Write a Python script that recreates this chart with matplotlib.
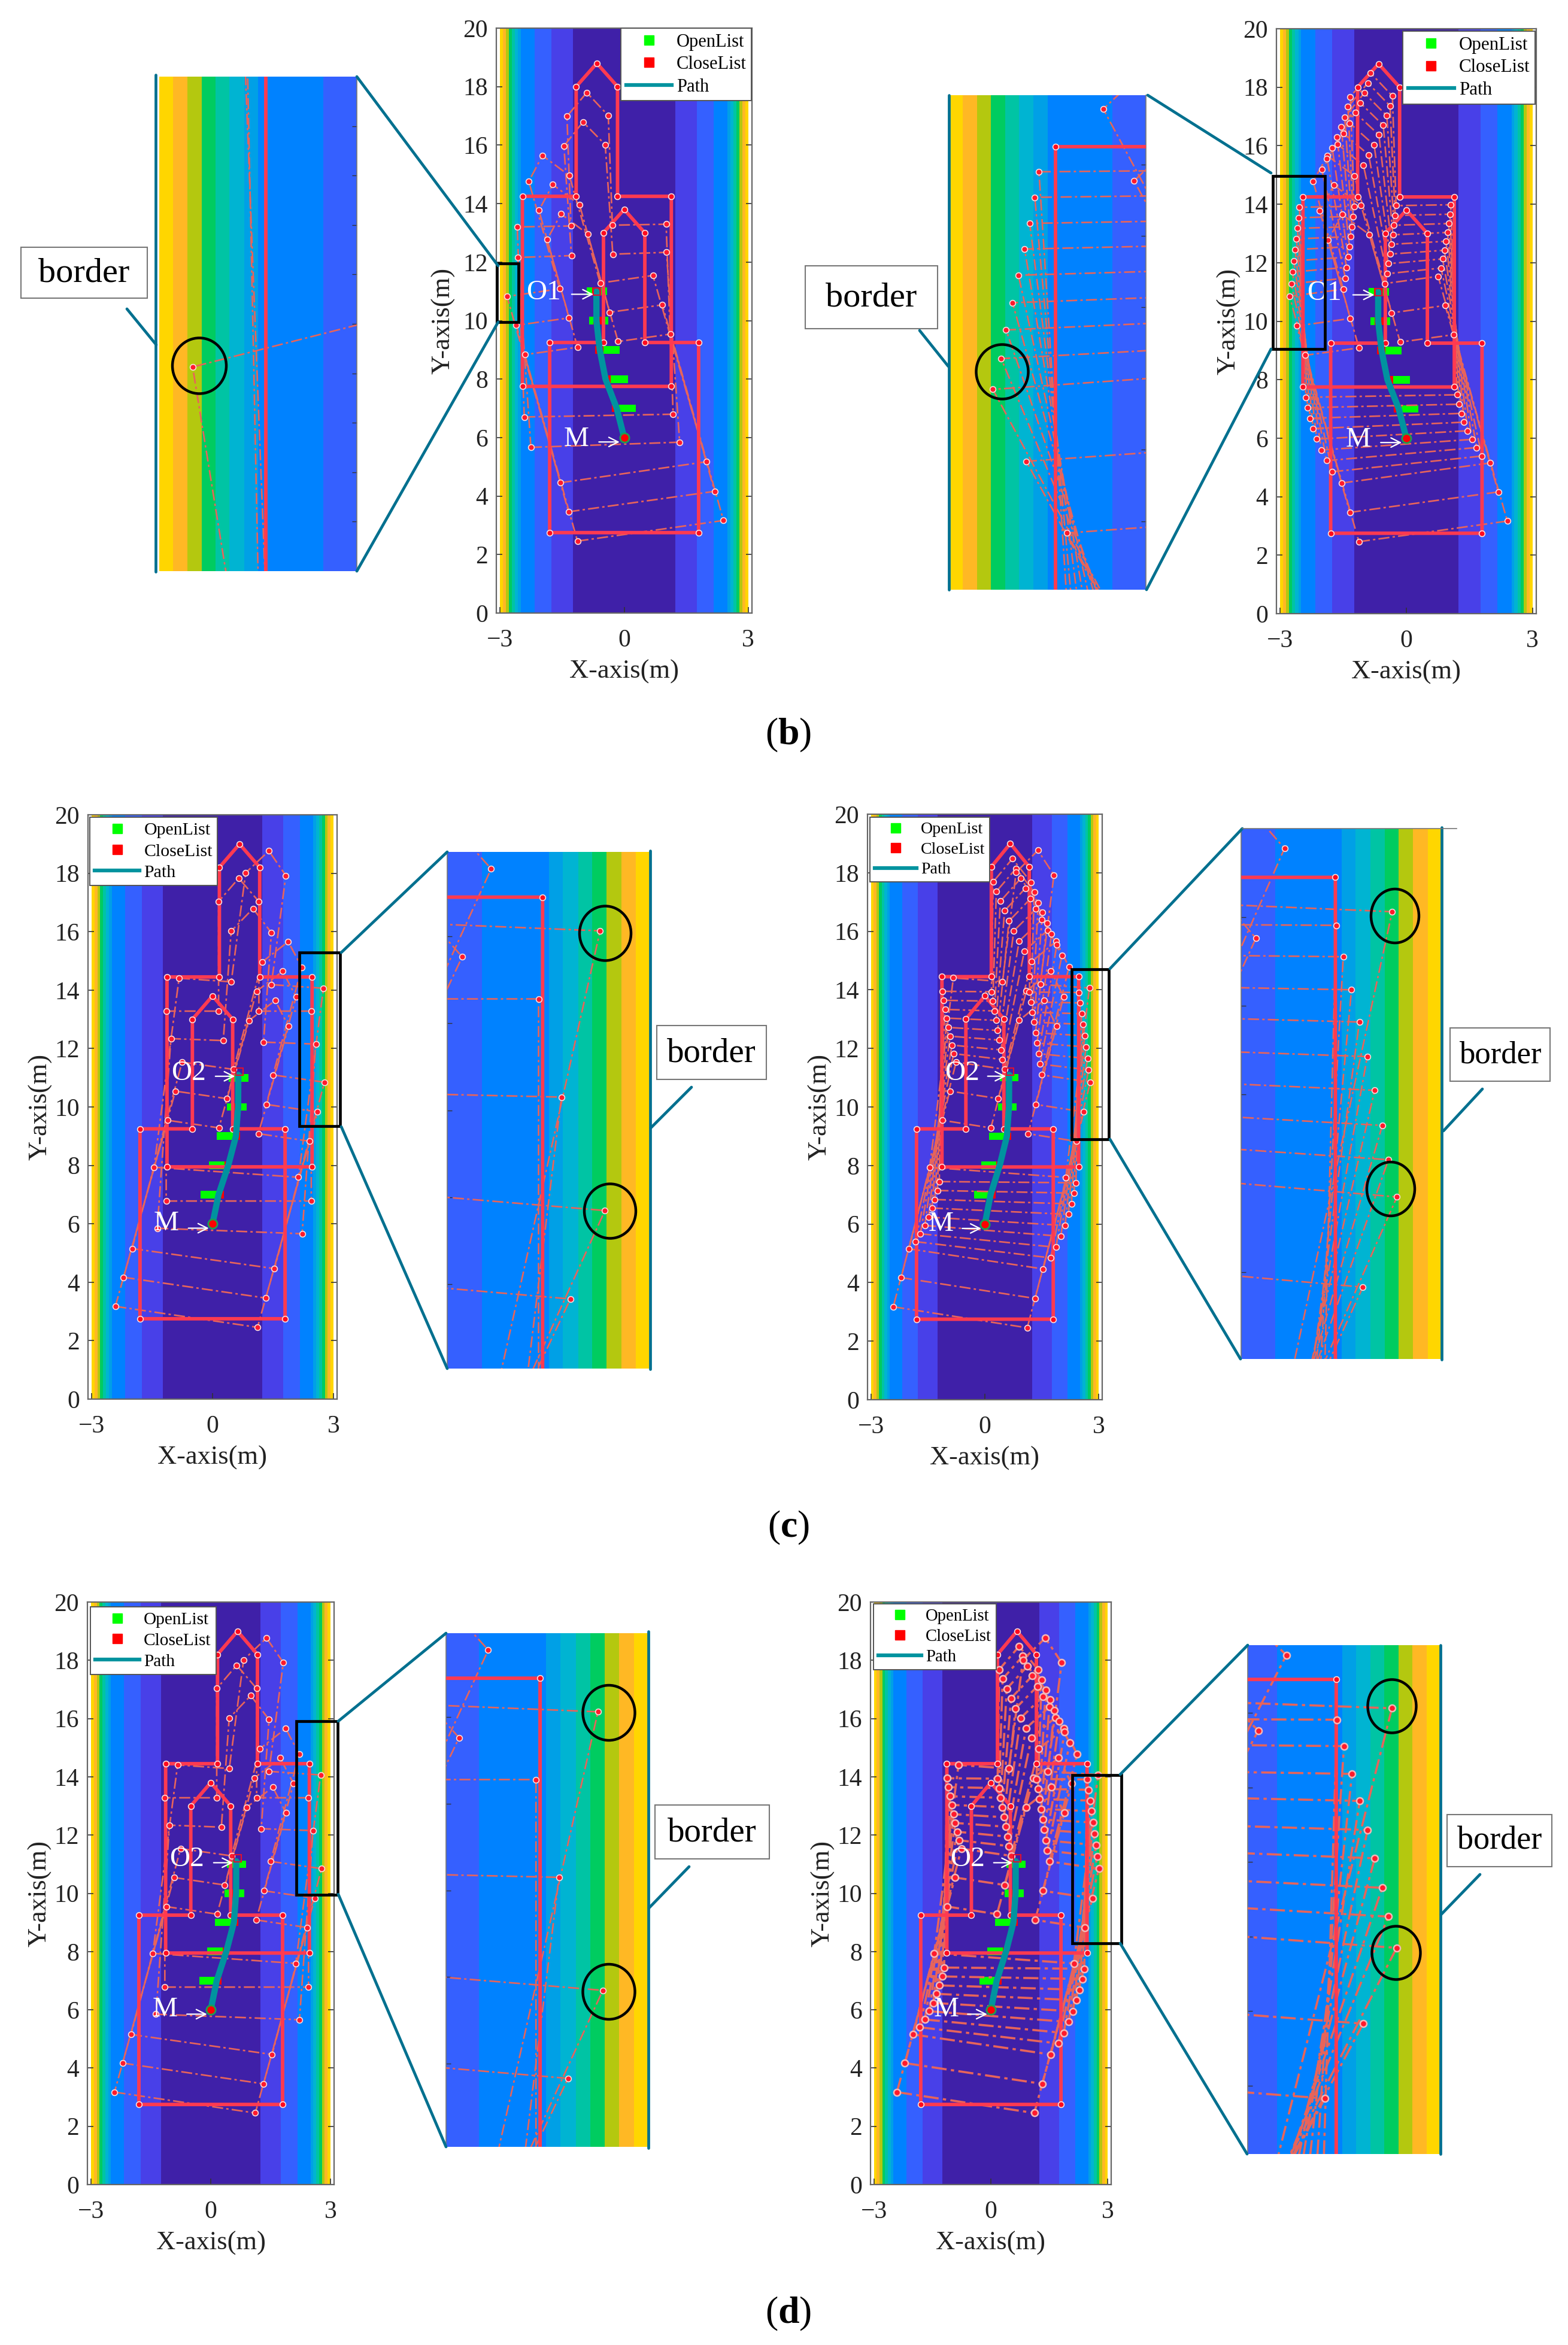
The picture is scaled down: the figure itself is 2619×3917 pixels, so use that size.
import numpy as np
import matplotlib
matplotlib.use('Agg')
import matplotlib.pyplot as plt
from matplotlib.lines import Line2D
from matplotlib.patches import Rectangle, Ellipse

plt.rcParams['font.family'] = ['Liberation Serif', 'DejaVu Sans']
plt.rcParams['mathtext.fontset'] = 'custom'
plt.rcParams['mathtext.rm'] = 'Liberation Serif'
plt.rcParams['mathtext.bf'] = 'Liberation Serif:bold'

W, H = 2619, 3917

# Potential field bands, from the road centre outwards (|x| upper edge)
band_edges = [1.24, 1.76, 2.17, 2.5, 2.57, 2.645, 2.715, 2.786, 2.857, 2.93, 3.0]
band_colors = ['#3F20A8', '#4840E8', '#3560FF', '#0082FF', '#00A0E6', '#00B4D2',
               '#00C4A4', '#00CC60', '#B4C80F', '#FFB824', '#FFD600']

# Vehicle outline relative to its reference point
shape_x = [-1.8, 1.8, 1.8, 0.5, 0.5, 0.0, -0.5, -0.5, -1.8]
shape_y = [-3.25, -3.25, 3.25, 3.25, 7.0, 7.8, 7.0, 3.25, 3.25]

# Poses (x, y, yaw in degrees)
start_pose = (0.0, 6.0, 0.0)
goal_left = (-0.66, 11.0, 0.0)
goal_right = (0.67, 11.2, 0.0)

poses_b_sparse = [(0, 6, 11.3), (-0.21, 7, 11.2), (-0.42, 8, 11.5),
                  (-0.615, 9, 2.8), (-0.7, 10, 1.5)]
poses_b_dense = [(0, 6, 11.3), (-0.21, 7, 11.2), (-0.39, 8, 11), (-0.469, 8.334, 8.6),
                 (-0.519, 8.68, 7.16), (-0.558, 9.01, 5.8), (-0.595, 9.35, 4.55),
                 (-0.621, 9.68, 3.5), (-0.642, 10.01, 2.64), (-0.658, 10.35, 1.89),
                 (-0.667, 10.69, 1.35)]
poses_c_sparse = [(0, 6, -11.5), (0.2, 7, -11.4), (0.39, 8, -11),
                  (0.595, 9, -3), (0.65, 10.03, 0), (0.65, 11, -5.5)]
poses_c_dense = [(0, 6, -11.5), (0.2, 7, -11.4), (0.39, 8, -11), (0.455, 8.333, -8.87),
                 (0.503, 8.66, -7.35), (0.543, 9.0, -5.87), (0.576, 9.333, -4.57),
                 (0.598, 9.683, -3.44), (0.617, 10.01, -2.38), (0.63, 10.35, -1.41),
                 (0.637, 10.68, -0.65), (0.65, 11, -5.5)]

# Search cells and path
cell_y = [7, 8, 9, 10, 11]
open_left_b = [-0.12, -0.32, -0.5, -0.85, -0.9]
open_width_b = [0.4, 0.41, 0.39, 0.47, 0.49]
close_left_b = [-0.3, -0.5, -0.7, -0.75, -0.77]
close_width_b = [0.18, 0.18, 0.2, 0.22, 0.18]
open_left_c = [-0.29, -0.09, 0.106, 0.35, 0.4]
open_width_c = [0.4, 0.39, 0.4, 0.49, 0.49]
close_left_c = [0.106, 0.3, 0.506, 0.5, 0.58]
close_width_c = [0.17, 0.18, 0.18, 0.2, 0.0]

path_x_b = [0, -0.18, -0.45, -0.59, -0.67, -0.67]
path_y_b = [6, 7, 8, 9, 10, 11]
path_x_c = [0, 0.15, 0.39, 0.58, 0.635, 0.64]
path_y_c = [6, 7, 8, 9, 10, 11.1]

x_ticks = [-3, 0, 3]
x_labels = ['\u22123', '0', '3']
y_ticks = list(range(0, 21, 2))

THICK = '#FF3A50'
THIN = '#E8645A'
TEAL = '#00708F'
PATH = '#00939F'


def outline(pose):
    x0, y0, yaw = pose
    t = np.radians(yaw)
    sx = np.array(shape_x)
    sy = np.array(shape_y)
    return x0 + sx * np.cos(t) - sy * np.sin(t), y0 + sx * np.sin(t) + sy * np.cos(t)


def add_axes_px(box):
    # box is left, top, right, bottom in image pixels
    l, t, r, b = box
    return fig.add_axes([l / W, 1 - b / H, (r - l) / W, (b - t) / H])


def draw_scene(ax, poses, goal, cells, path_x, path_y, heavy=False):
    # Bands
    lo = 0
    for hi, c in zip(band_edges, band_colors):
        if lo == 0:
            ax.axvspan(-hi, hi, color=c, lw=0, zorder=1)
        else:
            ax.axvspan(lo, hi, color=c, lw=0, zorder=1)
            ax.axvspan(-hi, -lo, color=c, lw=0, zorder=1)
        lo = hi

    # Open / close cells
    o_l, o_w, c_l, c_w = cells
    ax.barh(cell_y, o_w, left=o_l, height=0.26, color='#00FF00', zorder=3)
    ax.barh(cell_y, c_w, left=c_l, height=0.26, color='#FF0000', zorder=3)

    thin_lw = 2.6 if heavy else 1.9
    ms = 8 if heavy else 7
    mec = '#F2B8B8' if heavy else '#FBDCDC'
    mew = 1.8 if heavy else 1.2
    for pose in poses:
        px_, py_ = outline(pose)
        ax.plot(np.append(px_, px_[0]), np.append(py_, py_[0]), color=THIN, lw=thin_lw,
                ls=(0, (7, 2, 1.5, 2)), zorder=4)
        ax.plot(px_, py_, ls='none', marker='o', ms=ms, mfc='#FF1A2C', mec=mec, mew=mew, zorder=6)
    for pose in [start_pose, goal]:
        px_, py_ = outline(pose)
        ax.plot(np.append(px_, px_[0]), np.append(py_, py_[0]), color=THICK, lw=4.2,
                solid_joinstyle='miter', zorder=5)
        ax.plot(px_, py_, ls='none', marker='o', ms=7, mfc='#FF0A1E', mec='#FBDCDC', mew=1.2, zorder=6)

    # Path, start and goal
    ax.plot(path_x, path_y, color=PATH, lw=7.5, solid_capstyle='round', zorder=7)
    ax.plot([0], [6], ls='none', marker='o', ms=11, mfc='#FF0000', mec='#1CA050', mew=2, zorder=8)
    ax.plot([goal[0]], [goal[1]], ls='none', marker='s', ms=9, mfc='none', mec='#E01030', mew=1.5, zorder=8)


def main_panel(box, poses, goal, cells, path_x, path_y, goal_text, text_xy, arrow, m_xy, m_arrow,
               rect, leg_box, heavy=False, ylabel_pad=3):
    ax = add_axes_px(box)
    draw_scene(ax, poses, goal, cells, path_x, path_y, heavy)
    ax.set_xlim(-3.09, 3.09)
    ax.set_ylim(0, 20)
    ax.set_xticks(x_ticks)
    ax.set_xticklabels(x_labels)
    ax.set_yticks(y_ticks)
    ax.tick_params(direction='in', length=7, width=1.2, color='#333333', labelcolor='#222222',
                   labelsize=30, right=True, top=False, pad=10)
    ax.tick_params(axis='x', pad=19)
    for s in ax.spines.values():
        s.set_color('#666666')
        s.set_linewidth(1.6)
    ax.set_xlabel('X-axis(m)', fontsize=32, color='#222222', labelpad=9)
    ax.set_ylabel('Y-axis(m)', fontsize=32, color='#222222', labelpad=ylabel_pad)

    ax.text(text_xy[0], text_xy[1], goal_text, color='white', fontsize=34, ha='center', va='center', zorder=9)
    ax.text(m_xy[0], m_xy[1], 'M', color='white', fontsize=34, ha='center', va='center', zorder=9)
    for a in (arrow, m_arrow):
        ax.annotate('', xy=(a[1], a[2]), xytext=(a[0], a[2]), zorder=9,
                    arrowprops=dict(arrowstyle='->', color='white', lw=1.6, mutation_scale=28))

    ax.add_patch(Rectangle((rect[0], rect[2]), rect[1] - rect[0], rect[3] - rect[2], fill=False,
                           ec='black', lw=3.4, clip_on=False, zorder=10))

    # Legend
    l, t, r, b = leg_box
    size = 22 * (r - l) / 216
    handles = [Line2D([], [], ls='none', marker='s', ms=11, color='#00FF00'),
               Line2D([], [], ls='none', marker='s', ms=11, color='#FF0000'),
               Line2D([], [], color=PATH, lw=4.5)]
    x0 = (l - box[0]) / (box[2] - box[0])
    y0 = (box[3] - t) / (box[3] - box[1])
    leg = ax.legend(handles, ['OpenList', 'CloseList', 'Path'], loc='upper left', bbox_to_anchor=(x0, y0),
                    borderaxespad=0, fontsize=size, handlelength=2.5, handletextpad=0.25, labelspacing=0.28,
                    borderpad=0.28, fancybox=False, framealpha=1, edgecolor='#555555')
    leg.set_zorder(11)
    leg.get_frame().set_linewidth(1.4)
    return ax


def inset_panel(box, xlim, ylim, ticks, side, poses, goal, cells, path_x, path_y, heavy=False):
    ax = add_axes_px(box)
    draw_scene(ax, poses, goal, cells, path_x, path_y, heavy)
    ax.set_xlim(*xlim)
    ax.set_ylim(*ylim)
    ax.set_xticks([])
    ax.set_yticks(ticks)
    ax.set_yticklabels([])
    ax.tick_params(axis='y', direction='in', length=6, width=1, color='#333333',
                   left=(side == 'left'), right=(side == 'right'))
    for name, s in ax.spines.items():
        s.set_visible(name == side)
        s.set_color('#777777')
        s.set_linewidth(1.2)
    return ax


fig = plt.figure(figsize=(W / 100, H / 100), dpi=100, facecolor='white')

cells_b = (open_left_b, open_width_b, close_left_b, close_width_b)
cells_c = (open_left_c, open_width_c, close_left_c, close_width_c)

# Main panels
main_panel((829, 47, 1256, 1024), poses_b_sparse, goal_left, cells_b, path_x_b, path_y_b, 'O1',
           (-1.95, 10.95), (-1.31, -0.7, 10.9), (-1.15, 5.95), (-0.65, -0.07, 5.85),
           (-3.08, -2.55, 9.94, 11.95), (1037, 47, 1253, 162), ylabel_pad=9)
main_panel((2132, 48, 2566, 1025), poses_b_dense, goal_left, cells_b, path_x_b, path_y_b, 'O1',
           (-1.95, 10.95), (-1.31, -0.72, 10.9), (-1.15, 5.95), (-0.65, -0.07, 5.85),
           (-3.18, -1.93, 9.04, 14.97), (2343, 52, 2562, 166))
main_panel((147, 1361, 563, 2337), poses_c_sparse, goal_right, cells_c, path_x_c, path_y_c, 'O2',
           (-0.6, 11.16), (0.03, 0.6, 11.05), (-1.15, 6.0), (-0.64, -0.05, 5.85),
           (2.15, 3.17, 9.34, 15.28), (150, 1365, 361, 1479))
main_panel((1449, 1360, 1841, 2338), poses_c_dense, goal_right, cells_c, path_x_c, path_y_c, 'O2',
           (-0.6, 11.16), (0.03, 0.6, 11.05), (-1.15, 6.0), (-0.64, -0.05, 5.85),
           (2.29, 3.27, 8.9, 14.7), (1453, 1365, 1651, 1486))
main_panel((146, 2676, 558, 3649), poses_c_sparse, goal_right, cells_c, path_x_c, path_y_c, 'O2',
           (-0.6, 11.16), (0.03, 0.6, 11.05), (-1.15, 6.0), (-0.64, -0.05, 5.85),
           (2.15, 3.18, 9.95, 15.9), (151, 2684, 359, 2800))
main_panel((1454, 2676, 1856, 3649), poses_c_dense, goal_right, cells_c, path_x_c, path_y_c, 'O2',
           (-0.6, 11.16), (0.03, 0.6, 11.05), (-1.15, 6.0), (-0.64, -0.05, 5.85),
           (2.09, 3.35, 8.29, 14.05), (1459, 2679, 1662, 2799), heavy=True)

# Zoomed insets
inset_panel((263, 128, 596, 954), (-3.01, -2.0), (10, 12), np.arange(10.2, 11.9, 0.2), 'right',
            poses_b_sparse, goal_left, cells_b, path_x_b, path_y_b)
inset_panel((1585, 159, 1914, 985), (-3.0, -2.0), (8.04, 14.97), range(9, 15), 'right',
            poses_b_dense, goal_left, cells_b, path_x_b, path_y_b)
inset_panel((747, 1423, 1086, 2286), (2.0, 3.0), (9.03, 14.97), range(10, 15), 'left',
            poses_c_sparse, goal_right, cells_c, path_x_c, path_y_c)
inset_panel((2073, 1384, 2408, 2270), (2.0, 3.0), (9.02, 15.0), range(10, 15), 'left',
            poses_c_dense, goal_right, cells_c, path_x_c, path_y_c)
inset_panel((745, 2728, 1083, 3586), (2.01, 3.0), (9.04, 14.97), range(10, 15), 'left',
            poses_c_sparse, goal_right, cells_c, path_x_c, path_y_c)
inset_panel((2084, 2748, 2406, 3598), (2.02, 3.0), (8.08, 14.91), range(9, 15), 'left',
            poses_c_dense, goal_right, cells_c, path_x_c, path_y_c, heavy=True)

# Overlay in image pixels for connectors, circles and callouts
over = fig.add_axes([0, 0, 1, 1], zorder=20)
over.set_xlim(0, W)
over.set_ylim(H, 0)
over.axis('off')

connectors = [((596, 128), (832, 444)), ((596, 954), (832, 538)),
              ((1917, 159), (2123, 289)), ((1915, 985), (2123, 583)),
              ((747, 1423), (570, 1591)), ((747, 2286), (570, 1882)),
              ((2075, 1384), (1854, 1618)), ((2072, 2270), (1854, 1903)),
              ((745, 2728), (565, 2875)), ((745, 3586), (565, 3164)),
              ((2084, 2748), (1871, 2964)), ((2083, 3598), (1871, 3246)),
              # inset edges on the border side
              ((260, 125), (260, 955)), ((1585, 159), (1585, 985)),
              ((1086, 1421), (1086, 2287)), ((2408, 1382), (2408, 2271)),
              ((1083, 2725), (1083, 3588)), ((2406, 2748), (2406, 3598)),
              # callout tails
              ((212, 516), (261, 576)), ((1536, 552), (1584, 612)),
              ((1155, 1816), (1087, 1884)), ((2476, 1819), (2411, 1889)),
              ((1151, 3118), (1084, 3187)), ((2472, 3131), (2407, 3198))]
for p, q in connectors:
    over.plot([p[0], q[0]], [p[1], q[1]], color=TEAL, lw=3.4, solid_capstyle='round')
over.plot([2075, 2433], [1384, 1384], color='#777777', lw=1.2)

circles = [(333, 611, 90, 93), (1674, 621, 87, 91),
           (1011, 1559, 86, 91), (1019, 2023, 86, 91),
           (2330, 1530, 80, 90), (2323, 1986, 80, 90),
           (1017, 2861, 87, 92), (1017, 3327, 87, 92),
           (2325, 2850, 81, 89), (2332, 3262, 81, 89)]
for cx, cy, cw, ch in circles:
    over.add_patch(Ellipse((cx, cy), cw, ch, fill=False, ec='black', lw=3.2))

border_boxes = [(35, 413, 246, 498, 42), (1345, 444, 1566, 549, 42),
                (1097, 1713, 1280, 1803, 41), (2422, 1717, 2589, 1806, 38),
                (1094, 3015, 1285, 3105, 41), (2417, 3031, 2592, 3118, 39)]
for l, t, r, b, fs in border_boxes:
    over.add_patch(Rectangle((l, t), r - l, b - t, fc='white', ec='#777777', lw=1.5))
    over.text((l + r) / 2, (t + b) / 2 + 1, 'border', fontsize=fs, color='black', ha='center', va='center')

for lab, y in zip(['b', 'c', 'd'], [1228, 2552, 3865]):
    over.text(1317, y, r'($\mathbf{' + lab + r'}$)', fontsize=46, color='black', ha='center', va='center')

fig.savefig('out.png', dpi=100)
